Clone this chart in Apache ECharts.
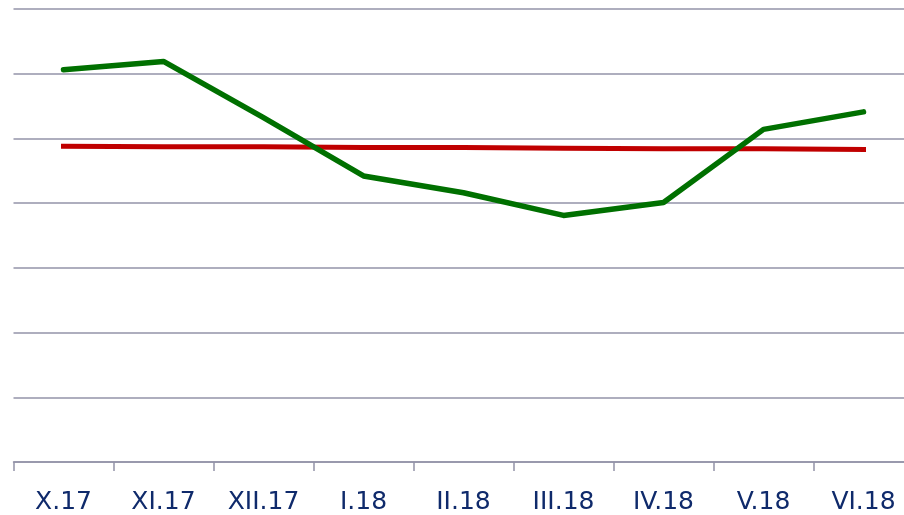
<!DOCTYPE html>
<html>
<head>
<meta charset="utf-8">
<script src="https://cdn.jsdelivr.net/npm/echarts@6/dist/echarts.min.js"></script>
<style>
html,body{margin:0;padding:0;background:#fff;overflow:hidden;width:904px;height:515px;}
#chart{width:914px;height:515px;}
</style>
</head>
<body>
<div id="chart"></div>
<script>
const categories = ['X.17','XI.17','XII.17','I.18','II.18','III.18','IV.18','V.18','VI.18'];
const greenValues = [6.06, 6.19, 5.32, 4.42, 4.16, 3.81, 4.01, 5.14, 5.41];
const redValues = [4.88, 4.87, 4.87, 4.86, 4.86, 4.85, 4.84, 4.84, 4.83];
const yMin = 0, yMax = 7, yInterval = 1;

const chart = echarts.init(document.getElementById('chart'), null, {renderer:'canvas'});
chart.setOption({
  animation: false,
  backgroundColor: '#ffffff',
  grid: {left: 13.5, width: 900, top: 9, height: 453.5, containLabel: false},
  xAxis: {
    type: 'category',
    data: categories,
    boundaryGap: true,
    axisLine: {show: true, lineStyle: {color: '#9393a8', width: 1.5}},
    axisTick: {show: true, length: 9, lineStyle: {color: '#9393a8', width: 1.5}},
    axisLabel: {color: '#0f2a6b', fontFamily: 'DejaVu Sans', fontSize: 25, margin: 28, interval: 0}
  },
  yAxis: {
    type: 'value',
    min: yMin, max: yMax, interval: yInterval,
    axisLine: {show: false},
    axisTick: {show: false},
    axisLabel: {show: false},
    splitLine: {show: true, lineStyle: {color: '#9393a8', width: 1.5}}
  },
  series: [
    {
      type: 'line', data: redValues, symbol: 'none', z: 2,
      lineStyle: {color: '#c00000', width: 5, cap: 'square'}
    },
    {
      type: 'line', data: greenValues, symbol: 'none', z: 3,
      lineStyle: {color: '#007000', width: 5.5, cap: 'round', join: 'round'}
    }
  ]
});
</script>
</body>
</html>
